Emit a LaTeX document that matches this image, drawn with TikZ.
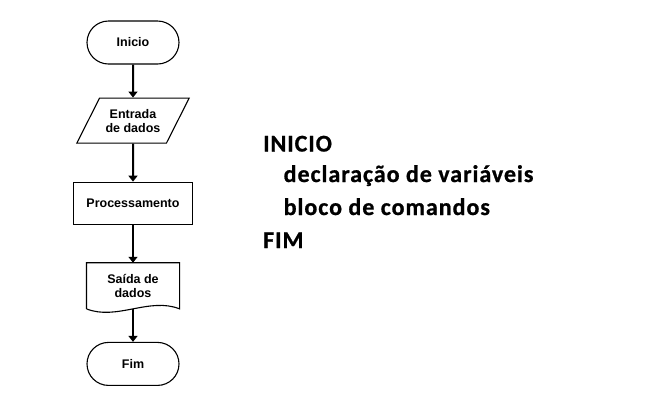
\documentclass[tikz,border=0pt]{standalone}
\usepackage{fontspec}
\setmainfont{Liberation Sans}
\newfontfamily\calibri{Carlito}[LetterSpace=4,BoldFeatures={FakeBold=0.8}]
\usetikzlibrary{positioning,shapes.geometric,arrows.meta}

\begin{document}
\begin{tikzpicture}[
  x=1pt, y=-1pt,
  node distance=33pt,
  fluxo/.style={line width=1.1pt,align=center,font=\bfseries\fontsize{12.5}{14}\selectfont},
  terminal/.style={fluxo,draw,rounded corners=21.5pt,minimum width=92pt,minimum height=43pt},
  entradabox/.style={fluxo,draw,trapezium,trapezium left angle=58,trapezium right angle=122,
    trapezium stretches=true,minimum width=113pt,minimum height=45pt,inner xsep=0pt},
  procbox/.style={fluxo,draw,rectangle,minimum width=119pt,minimum height=42pt},
  docbox/.style={fluxo,rectangle,minimum width=92pt,minimum height=45pt},
  seta/.style={line width=2pt,-{Triangle[length=6pt,width=9pt]}},
  texto/.style={anchor=base west,inner sep=0pt,font=\calibri\bfseries\fontsize{24}{28}\selectfont}
]
\useasboundingbox (0,0) rectangle (648,400);

% fluxograma
\node[terminal] (inicio) at (133,42.5) {Inicio};
\node[entradabox,below=33pt of inicio] (entrada) {Entrada\\de dados};
\node[procbox,below=38pt of entrada] (proc) {Processamento};
\node[docbox,below=38pt of proc] (saida) {Sa\'ida de\\dados};
\node[terminal,below=33pt of saida] (fim) {Fim};

\draw[line width=1.1pt] (saida.south west) -- (saida.north west) -- (saida.north east)
  -- (saida.south east) .. controls +(-30,-12) and +(30,12) .. (saida.south west);

\path (inicio) edge[seta] (entrada)
(entrada) edge[seta] (proc)
(proc) edge[seta] (saida)
(saida.south) edge[seta] (fim);

% pseudocodigo
\node[texto] (t1) at (263,151.5) {INICIO};
\node[texto] (t2) at (283.5,182) {declaração de variáveis};
\node[texto] (t3) at (283.5,215) {bloco de comandos};
\node[texto] (t4) at (263,248) {FIM};
\end{tikzpicture}
\end{document}
